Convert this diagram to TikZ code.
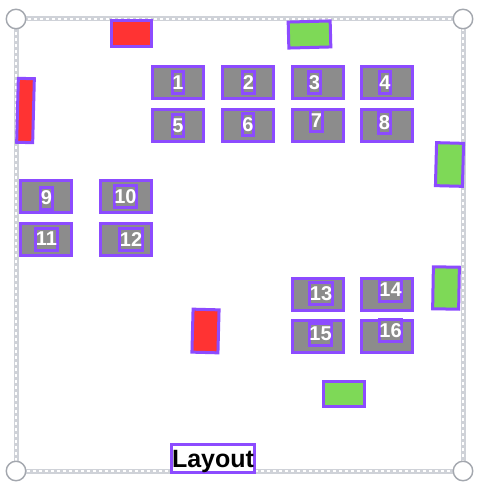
\documentclass[tikz,border=0pt]{standalone}
\usepackage{fontspec}
\setmainfont{Liberation Sans}
\definecolor{pur}{HTML}{8C4BFF}
\definecolor{gfill}{HTML}{8C8C8C}
\definecolor{redf}{HTML}{FF3333}
\definecolor{grnf}{HTML}{7ED957}
\definecolor{frm}{HTML}{CFD2D8}
\definecolor{hnd}{HTML}{A3A7AE}
\tikzset{
  seat/.style={draw=pur, line width=3pt, fill=gfill, minimum width=51pt, minimum height=32pt, inner sep=0pt},
  tag/.style={draw=pur, line width=3pt, fill=gfill, text=white, font=\fontsize{20}{20}\selectfont\bfseries, inner xsep=0.3pt, inner ysep=0pt, minimum height=22pt},
  redbox/.style={draw=pur, line width=3pt, fill=redf, inner sep=0pt},
  grnbox/.style={draw=pur, line width=3pt, fill=grnf, inner sep=0pt},
  handle/.style={circle, draw=hnd, line width=1.4pt, fill=white, minimum size=19.5pt, inner sep=0pt},
  frameout/.style={frm, line width=5pt},
  framein/.style={white, line width=1.6pt, dash pattern=on 3pt off 3pt},
  title/.style={draw=pur, line width=3pt, fill=white, text=black, font=\fontsize{25}{25}\selectfont\bfseries, minimum width=83pt, minimum height=28pt, inner sep=0pt, text height=18pt, text depth=0pt}
}
\begin{document}
\begin{tikzpicture}[x=1pt,y=-1pt]
\useasboundingbox[fill=white] (0,0) rectangle (477,486);
% frame
\coordinate (c1) at (16,19);
\coordinate (c2) at (463,19);
\coordinate (c3) at (16,471);
\coordinate (c4) at (463,471);
\draw[frameout] (c1) -- (c2) -- (c4) -- (c3) -- cycle;
\draw[framein] (c1) -- (c2) -- (c4) -- (c3) -- cycle;
% seats
\node[seat] (b1) at (178,83) {};
\node[seat] (b2) at (248,83) {};
\node[seat] (b3) at (318,83) {};
\node[seat] (b4) at (387,83) {};
\node[seat] (b5) at (178,125.5) {};
\node[seat] (b6) at (248,125.5) {};
\node[seat] (b7) at (318,125.5) {};
\node[seat] (b8) at (387,125.5) {};
\node[seat] (b9) at (46,196.5) {};
\node[seat] (b10) at (126,196.5) {};
\node[seat] (b11) at (46,239.5) {};
\node[seat] (b12) at (126,239.5) {};
\node[seat] (b13) at (317.5,294) {};
\node[seat] (b14) at (387,294) {};
\node[seat] (b15) at (317.5,336.5) {};
\node[seat] (b16) at (387,336.5) {};
% tags
\node[tag] (t1) at (178,83) {1};
\node[tag] (t2) at (248.5,82.5) {2};
\node[tag] (t3) at (314.5,83) {3};
\node[tag] (t4) at (385,83) {4};
\node[tag] (t5) at (178,125.5) {5};
\node[tag] (t6) at (248,125) {6};
\node[tag] (t7) at (316.5,120.5) {7};
\node[tag] (t8) at (384.5,123) {8};
\node[tag] (t9) at (46.5,198) {9};
\node[tag] (t10) at (125.5,196.5) {10};
\node[tag] (t11) at (46.5,239) {11};
\node[tag] (t12) at (131,239.5) {12};
\node[tag] (t13) at (321,293.5) {13};
\node[tag] (t14) at (390.5,290) {14};
\node[tag] (t15) at (320.5,334) {15};
\node[tag] (t16) at (390.5,330.5) {16};
% coloured blocks
\node[redbox, minimum width=40pt, minimum height=26pt] (r1) at (131.5,33.5) {};
\node[redbox, minimum width=16pt, minimum height=64pt, rotate=-1.5] (r2) at (25.5,110.5) {};
\node[redbox, minimum width=26pt, minimum height=43pt, rotate=-1.5] (r3) at (205.5,331) {};
\node[grnbox, minimum width=42pt, minimum height=26pt, rotate=1.5] (g1) at (309.5,34.5) {};
\node[grnbox, minimum width=27pt, minimum height=43pt, rotate=-1.5] (g2) at (449.5,164.5) {};
\node[grnbox, minimum width=26pt, minimum height=42pt, rotate=-1] (g3) at (446,288) {};
\node[grnbox, minimum width=41pt, minimum height=25pt] (g4) at (344,394) {};
% title
\node[title] (lay) at (213,458.5) {Layout};
% handles
\node[handle] (h1) at (c1) {};
\node[handle] (h2) at (c2) {};
\node[handle] (h3) at (c3) {};
\node[handle] (h4) at (c4) {};
\end{tikzpicture}
\end{document}
